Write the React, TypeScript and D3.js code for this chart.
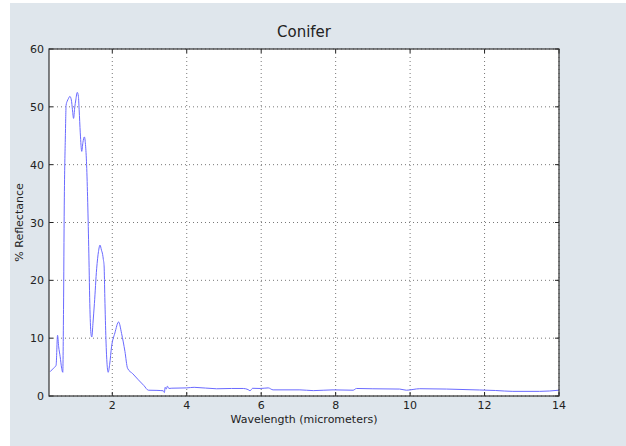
import React from "react";
import * as d3 from "d3";

const wavelength = [0.33, 0.42, 0.49, 0.53, 0.56, 0.60, 0.64, 0.67, 0.69, 0.71, 0.74, 0.76, 0.79, 0.82, 0.86, 0.90, 0.93, 0.96, 0.99, 1.02, 1.06, 1.09, 1.11, 1.14, 1.18, 1.21, 1.25, 1.28, 1.31, 1.34, 1.37, 1.40, 1.43, 1.45, 1.48, 1.52, 1.58, 1.63, 1.67, 1.71, 1.74, 1.76, 1.78, 1.80, 1.83, 1.86, 1.89, 1.93, 1.98, 2.07, 2.17, 2.25, 2.34, 2.41, 2.55, 2.70, 2.85, 2.97, 3.20, 3.37, 3.40, 3.42, 3.45, 3.48, 3.52, 3.6, 4.0, 4.2, 4.8, 5.2, 5.52, 5.65, 5.7, 5.77, 5.97, 6.19, 6.32, 7.04, 7.4, 7.93, 8.47, 8.56, 9.0, 9.72, 9.9, 10.26, 10.98, 11.87, 12.3, 12.76, 13.48, 14.0];
const reflectance = [4.2, 4.8, 5.3, 10.5, 8.5, 6.8, 4.8, 4.1, 15, 33, 45, 50.3, 51.0, 51.4, 51.8, 51.2, 49.5, 48.0, 49.8, 51.2, 52.5, 51.8, 49.5, 45.5, 42.3, 43.8, 44.8, 43.5, 40, 33.5, 24.7, 15, 10.6, 10.2, 12.5, 16.0, 22.0, 25.0, 26.1, 25.2, 24.5, 23.6, 22.5, 17, 9.7, 5.5, 4.1, 5.5, 8.5, 10.9, 12.8, 10.8, 7.7, 4.8, 3.85, 2.8, 1.8, 1.0, 0.97, 0.9, 0.6, 1.5, 1.2, 1.7, 1.3, 1.35, 1.4, 1.5, 1.25, 1.3, 1.3, 1.1, 0.9, 1.33, 1.3, 1.4, 1.06, 1.06, 0.93, 1.06, 1.0, 1.3, 1.25, 1.2, 1.0, 1.26, 1.2, 1.04, 0.95, 0.8, 0.8, 1.0];
const xTicks = [2, 4, 6, 8, 10, 12, 14];
const yTicks = [0, 10, 20, 30, 40, 50, 60];
const title = "Conifer";
const xLabel = "Wavelength (micrometers)";
const yLabel = "% Reflectance";

export default function App() {
  const W = 626, H = 446;
  const L = 49, R = 559, T = 49, B = 396;
  const x = d3.scaleLinear().domain([0.3, 14]).range([L, R]);
  const y = d3.scaleLinear().domain([0, 60]).range([B, T]);
  const pts = wavelength.map((w, i) => [w, reflectance[i]] as [number, number]);
  const line = d3.line<[number, number]>().x(d => x(d[0])).y(d => y(d[1])).curve(d3.curveMonotoneX);
  const font = "DejaVu Sans, sans-serif";
  return (
    <div style={{ position: "fixed", left: 0, top: 0 }}>
      <svg width={W} height={H} style={{ display: "block" }}>
        <rect x={0} y={0} width={W} height={H} fill="#ffffff" />
        <rect x={10} y={3} width={W - 10} height={H - 3} fill="#dfe6ec" />
        <rect x={L} y={T} width={R - L} height={B - T} fill="#ffffff" />
        {xTicks.map(t => (
          <line key={"gx" + t} x1={x(t)} x2={x(t)} y1={T} y2={B} stroke="#555" strokeWidth={0.8} strokeDasharray="1,3" />
        ))}
        {yTicks.map(t => (
          <line key={"gy" + t} x1={L} x2={R} y1={y(t)} y2={y(t)} stroke="#555" strokeWidth={0.8} strokeDasharray="1,3" />
        ))}
        <clipPath id="clip"><rect x={L} y={T} width={R - L} height={B - T} /></clipPath>
        <path d={line(pts) || ""} fill="none" stroke="#6a6aff" strokeWidth={1} clipPath="url(#clip)" />
        {xTicks.map(t => (
          <g key={"tx" + t}>
            <line x1={x(t)} x2={x(t)} y1={B} y2={B - 4} stroke="#222" />
            <line x1={x(t)} x2={x(t)} y1={T} y2={T + 4} stroke="#222" />
            <text x={x(t)} y={409} textAnchor="middle" fontFamily={font} fontSize={11} fill="#222">{t}</text>
          </g>
        ))}
        {yTicks.map(t => (
          <g key={"ty" + t}>
            <line x1={L} x2={L + 4} y1={y(t)} y2={y(t)} stroke="#222" />
            <line x1={R} x2={R - 4} y1={y(t)} y2={y(t)} stroke="#222" />
            <text x={44} y={y(t) + 4} textAnchor="end" fontFamily={font} fontSize={11} fill="#222">{t}</text>
          </g>
        ))}
        <rect x={L} y={T} width={R - L} height={B - T} fill="none" stroke="#333" strokeWidth={1.2} />
        <text x={(L + R) / 2} y={37} textAnchor="middle" fontFamily={font} fontSize={15} fill="#222">{title}</text>
        <text x={(L + R) / 2} y={423} textAnchor="middle" fontFamily={font} fontSize={11} fill="#222">{xLabel}</text>
        <text transform={`translate(23,${(T + B) / 2}) rotate(-90)`} textAnchor="middle" fontFamily={font} fontSize={11} fill="#222">{yLabel}</text>
      </svg>
    </div>
  );
}
